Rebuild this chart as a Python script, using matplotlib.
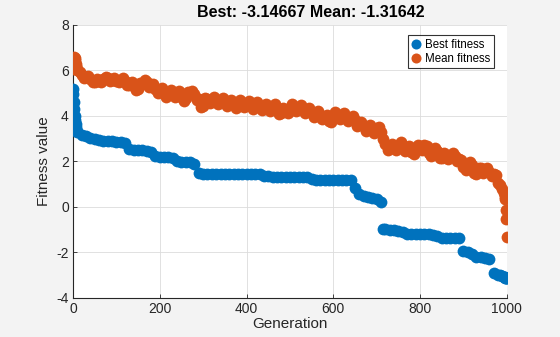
import numpy as np
import matplotlib
matplotlib.use("Agg")
import matplotlib.pyplot as plt

# best fitness per generation (recorded at these generations)
best_generation = [0, 1, 2, 3, 4, 5, 6, 7, 8, 9, 10,
                   20, 30, 40, 50, 60, 70, 80, 90, 100,
                   110, 120, 130, 140, 150, 160, 170, 180, 190, 200,
                   210, 220, 230, 240, 250, 260, 270, 280, 290, 300,
                   310, 320, 330, 340, 350, 360, 370, 380, 390, 400,
                   410, 420, 430, 440, 450, 460, 470, 480, 490, 500,
                   510, 520, 530, 540, 550, 560, 570, 580, 590, 600,
                   610, 620, 630, 640, 650, 660, 670, 680, 690, 700,
                   710, 715, 720, 730, 740, 750, 760, 770, 780, 790, 800,
                   810, 820, 830, 840, 850, 860, 870, 880, 890, 900,
                   910, 920, 930, 940, 950, 960, 970, 980,
                   985, 990, 993, 995, 997, 998, 999, 1000]

best_fitness = [5.2, 4.95, 4.6, 4.3, 4.0, 3.8, 3.65, 3.5, 3.4, 3.35, 3.3,
                3.18, 3.1, 3.05, 3.0, 2.95, 2.9, 2.88, 2.88, 2.87,
                2.85, 2.82, 2.55, 2.52, 2.5, 2.5, 2.48, 2.42, 2.25, 2.2,
                2.18, 2.18, 2.15, 2.0, 1.98, 1.97, 1.97, 1.9, 1.5, 1.45,
                1.45, 1.45, 1.45, 1.45, 1.45, 1.45, 1.45, 1.45, 1.45, 1.45,
                1.45, 1.45, 1.45, 1.38, 1.36, 1.33, 1.33, 1.33, 1.33, 1.33,
                1.33, 1.33, 1.33, 1.33, 1.22, 1.17, 1.17, 1.17, 1.17, 1.17,
                1.17, 1.17, 1.17, 1.17, 0.85, 0.55, 0.48, 0.45, 0.4, 0.35,
                0.2, -0.95, -0.98, -1.0, -1.02, -1.05, -1.1, -1.2, -1.2, -1.2, -1.2,
                -1.2, -1.2, -1.22, -1.3, -1.35, -1.35, -1.35, -1.35, -1.35, -1.95,
                -1.98, -2.05, -2.2, -2.22, -2.25, -2.28, -2.9, -2.98,
                -3.0, -3.05, -3.08, -3.1, -3.12, -3.13, -3.14, -3.14667]

# mean population fitness, sampled every 5 generations
mean_generation = (list(range(0, 11)) + list(range(15, 995, 5))
                   + [993, 995, 997, 998, 999, 1000])

mean_fitness = [
    6.05, 6.4, 6.55, 6.6, 6.55, 6.45, 6.3, 6.2, 6.1, 6.05, 6.0,
    5.95, 5.82, 5.68, 5.7, 5.75, 5.62, 5.5, 5.5, 5.62, 5.55, 5.5, 5.62, 5.72, 5.65, 5.55, 5.6, 5.65, 5.55,
    5.48, 5.58, 5.65, 5.55, 5.35, 5.35, 5.5, 5.3, 5.12, 5.2, 5.45, 5.4, 5.58, 5.5, 5.28, 5.35, 5.42, 5.2, 5.0, 5.1,
    5.22, 5.05, 4.85, 4.95, 5.12, 5.0, 4.85, 5.0, 5.08, 4.85, 4.66, 4.78, 5.05, 5.0, 5.1, 4.95, 4.7, 4.75, 4.4, 4.45,
    4.78, 4.75, 4.57, 4.7, 4.85, 4.7, 4.52, 4.65, 4.78, 4.62, 4.45, 4.6, 4.72, 4.52, 4.36, 4.5, 4.68, 4.55, 4.38, 4.52,
    4.66, 4.48, 4.3, 4.42, 4.6, 4.45, 4.26, 4.38, 4.53, 4.35, 4.22, 4.4, 4.53, 4.35, 4.1, 4.15, 4.36, 4.25, 4.15, 4.35,
    4.53, 4.4, 4.23, 4.38, 4.5, 4.3, 4.12, 4.25, 4.36, 4.15, 3.97, 4.1, 4.23, 4.05, 3.85, 3.95, 4.03, 3.78, 3.72, 3.95,
    4.16, 4.05, 3.87, 4.0, 4.13, 3.95, 3.77, 3.9, 4.01, 3.8, 3.55, 3.62, 3.74, 3.55, 3.35, 3.45, 3.58, 3.4, 3.27, 3.45,
    3.53, 3.3, 3.0, 2.75, 2.52, 2.6, 2.78, 2.65, 2.52, 2.7, 2.85, 2.68, 2.48, 2.6, 2.66, 2.4, 2.32, 2.55, 2.73, 2.6,
    2.49, 2.7, 2.68, 2.35, 2.22, 2.4, 2.58, 2.45, 2.14, 2.15, 2.38, 2.3, 2.09, 2.2, 2.38, 2.25, 2.02, 2.1, 2.08, 1.75,
    1.62, 1.8, 1.98, 1.85, 1.49, 1.45, 1.73, 1.7, 1.49, 1.6, 1.73, 1.55, 1.34, 1.45, 1.4, 1.05, 0.95, 0.8,
    0.6, 0.45, 0.35, -0.12, -0.55, -1.31642]

plt.rcParams['font.family'] = ['Liberation Sans', 'DejaVu Sans']
plt.rcParams['axes.unicode_minus'] = False

fig = plt.figure(figsize=(5.6, 3.37), dpi=100, facecolor='#f3f3f3')
ax = fig.add_axes([0.1304, 0.116, 0.7746, 0.81])

ax.plot(best_generation, best_fitness, 'o', color='#0072BD', markersize=8.5,
        markeredgewidth=0, label='Best fitness', zorder=3)
ax.plot(mean_generation, mean_fitness, 'o', color='#D95319', markersize=8.5,
        markeredgewidth=0, label='Mean fitness', zorder=3)

ax.set_xlim(0, 1000)
ax.set_ylim(-4, 8)
ax.set_xticks([0, 200, 400, 600, 800, 1000])
ax.set_yticks([-4, -2, 0, 2, 4, 6, 8])
ax.grid(True, color='#dcdcdc', linewidth=0.6)
ax.set_axisbelow(True)
for side in ['top', 'right']:
    ax.spines[side].set_visible(False)
for side in ['left', 'bottom']:
    ax.spines[side].set_color('#262626')
    ax.spines[side].set_linewidth(0.8)
ax.tick_params(direction='in', length=3, width=0.6, colors='#262626',
               labelsize=10, pad=3)

ax.set_xlabel('Generation', fontsize=11, color='#262626', labelpad=1)
ax.set_ylabel('Fitness value', fontsize=11, color='#262626', labelpad=4)
ax.set_title('Best: %g Mean: %g' % (best_fitness[-1], mean_fitness[-1]),
             fontsize=11.5, fontweight='bold', color='#000000', pad=6, x=0.548)

leg = ax.legend(loc='upper right', bbox_to_anchor=(0.975, 0.97), fontsize=8.3,
                frameon=True, fancybox=False, edgecolor='#000000',
                handlelength=0.8, handletextpad=0.4, borderpad=0.3,
                labelspacing=0.15, borderaxespad=0.2, markerscale=0.85)
leg.get_frame().set_linewidth(0.8)

fig.savefig('out.png', dpi=100, facecolor=fig.get_facecolor())
